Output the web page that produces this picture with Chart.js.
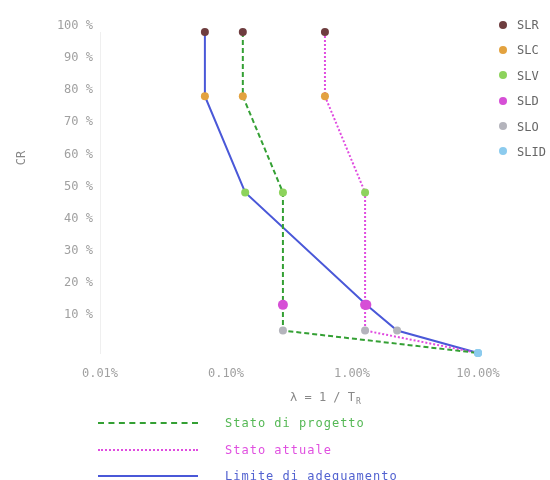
<!DOCTYPE html>
<html lang="it">
<head>
    <meta charset="utf-8">
    <script src="https://cdn.jsdelivr.net/npm/chart.js"></script>
    <style>
        body {
            margin: 0;
            background-color: #ffffff;
            font-family: "DejaVu Sans Mono", monospace;
        }
        #wrap {
            position: relative;
            width: 550px;
            height: 480px;
        }
        #chart {
            position: absolute;
            left: 0;
            top: 0;
        }
        /* legenda stati limite (destra) */
        #stati {
            position: absolute;
            left: 499px;
            top: 13px;
            margin: 0;
            padding: 0;
            list-style: none;
        }
        #stati li {
            height: 25.4px;
            line-height: 25.4px;
            font-size: 12px;
            color: #666;
            white-space: nowrap;
        }
        #stati li span {
            display: inline-block;
            width: 8px;
            height: 8px;
            border-radius: 50%;
            margin-right: 10px;
            vertical-align: middle;
            position: relative;
            top: -1px;
        }
        /* legenda curve (sotto) */
        #curve {
            position: absolute;
            left: 98px;
            top: 410px;
        }
        .riga {
            height: 26.5px;
            display: flex;
            align-items: center;
        }
        .campione {
            width: 100px;
            height: 0;
            margin-right: 27px;
        }
        .riga label {
            font-size: 12px;
            letter-spacing: 1px;
        }
    </style>
</head>
<body>
    <div id="wrap">
        <canvas id="chart" width="550" height="480"></canvas>
        <ul id="stati"></ul>
        <div id="curve"></div>
    </div>
    <script>
        // stati limite e coefficienti CR (%)
        const states = ['SLR', 'SLC', 'SLV', 'SLD', 'SLO', 'SLID'];
        const cr = [100, 80, 50, 15, 7, 0];
        // lambda = 1 / T_R (%)
        const statoProgetto = [0.136, 0.136, 0.283, 0.283, 0.283, 10];
        const statoAttuale = [0.61, 0.61, 1.27, 1.27, 1.27, 10];
        const limiteAdeguamento = [0.068, 0.068, 0.142, 1.3, 2.28, 10];
        // tick
        const xTicks = [0.01, 0.1, 1, 10];
        const yTicks = [10, 20, 30, 40, 50, 60, 70, 80, 90, 100];

        const stateColors = ['#6e3d3f', '#e3a23f', '#8dd35c', '#d64fd6', '#b4b4bc', '#8ccbee'];

        const curves = [
            { label: 'Stato di progetto', values: statoProgetto, color: '#34a034', text: '#55b855', dash: [5, 3], css: 'dashed' },
            { label: 'Stato attuale', values: statoAttuale, color: '#e04ce0', text: '#e050e0', dash: [2, 2], css: 'dotted' },
            { label: 'Limite di adeguamento', values: limiteAdeguamento, color: '#4a58d8', text: '#5262d0', dash: [], css: 'solid' }
        ];

        const monoFont = '"DejaVu Sans Mono", monospace';

        // titoli degli assi
        const axisTitles = {
            id: 'axisTitles',
            afterDraw(chart) {
                const ctx = chart.ctx;
                ctx.save();
                ctx.fillStyle = '#888';
                ctx.textBaseline = 'middle';
                ctx.font = '12px ' + monoFont;
                ctx.translate(22, 158);
                ctx.rotate(-Math.PI / 2);
                ctx.textAlign = 'center';
                ctx.fillText('CR', 0, 0);
                ctx.restore();

                ctx.save();
                ctx.fillStyle = '#888';
                ctx.textBaseline = 'middle';
                ctx.textAlign = 'left';
                ctx.font = '12px ' + monoFont;
                const t = '\u03BB = 1 / T';
                ctx.fillText(t, 290, 398);
                const w = ctx.measureText(t).width;
                ctx.font = '8px ' + monoFont;
                ctx.fillText('R', 291 + w, 402);
                ctx.restore();
            }
        };

        new Chart(document.getElementById('chart'), {
            type: 'line',
            data: {
                datasets: curves.map(c => ({
                    label: c.label,
                    data: c.values.map((v, i) => ({ x: v, y: cr[i] })),
                    borderColor: c.color,
                    borderWidth: 2,
                    borderDash: c.dash,
                    tension: 0,
                    fill: false,
                    clip: false,
                    pointBackgroundColor: stateColors,
                    pointBorderColor: stateColors,
                    pointBorderWidth: 0,
                    pointRadius: [4, 4, 4, 5, 4, 4]
                }))
            },
            options: {
                responsive: false,
                animation: false,
                layout: {
                    padding: { top: 32, right: 72, bottom: 80, left: 0 }
                },
                plugins: {
                    legend: { display: false },
                    tooltip: { enabled: false }
                },
                scales: {
                    x: {
                        type: 'logarithmic',
                        min: 0.01,
                        max: 10,
                        afterBuildTicks: scale => {
                            scale.ticks = xTicks.map(v => ({ value: v }));
                        },
                        afterFit: scale => {
                            scale.height = 47;
                        },
                        grid: { display: false, drawTicks: false },
                        border: { display: false },
                        ticks: {
                            padding: 14,
                            color: '#a0a0a0',
                            font: { family: monoFont, size: 12 },
                            maxRotation: 0,
                            callback: v => Number(v).toFixed(2) + '%'
                        }
                    },
                    y: {
                        type: 'linear',
                        min: 0,
                        max: 100,
                        afterBuildTicks: scale => {
                            scale.ticks = yTicks.map(v => ({ value: v }));
                        },
                        afterFit: scale => {
                            scale.width = 100;
                        },
                        grid: { display: false, drawTicks: false },
                        border: { display: true, color: '#efefef', width: 1 },
                        ticks: {
                            padding: 7,
                            labelOffset: -6,
                            color: '#a0a0a0',
                            font: { family: monoFont, size: 12 },
                            callback: v => v + ' %'
                        }
                    }
                }
            },
            plugins: [axisTitles]
        });

        // legenda stati limite
        const stati = document.getElementById('stati');
        states.forEach((s, i) => {
            const li = document.createElement('li');
            const dot = document.createElement('span');
            dot.style.backgroundColor = stateColors[i];
            li.appendChild(dot);
            li.appendChild(document.createTextNode(s));
            stati.appendChild(li);
        });

        // legenda curve
        const legendaCurve = document.getElementById('curve');
        curves.forEach(c => {
            const riga = document.createElement('div');
            riga.className = 'riga';
            const campione = document.createElement('div');
            campione.className = 'campione';
            campione.style.borderTop = '2px ' + c.css + ' ' + c.color;
            const label = document.createElement('label');
            label.textContent = c.label;
            label.style.color = c.text;
            riga.appendChild(campione);
            riga.appendChild(label);
            legendaCurve.appendChild(riga);
        });
    </script>
</body>
</html>
